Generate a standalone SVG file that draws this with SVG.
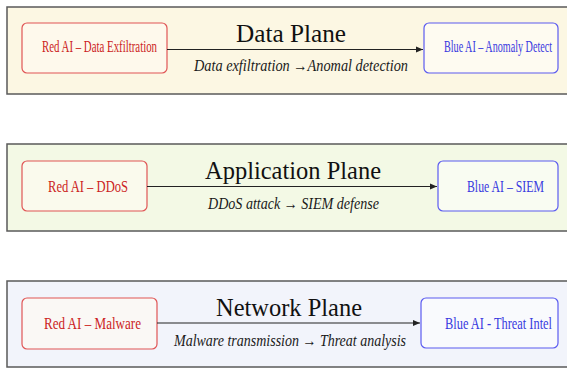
<svg xmlns="http://www.w3.org/2000/svg" width="567" height="368" viewBox="0 0 567 368">
<defs>
<style>
.panel{stroke:#5a5a5a;stroke-width:1.5}
.red rect{fill:#fffaf2;fill-opacity:0.6;stroke:#e05555;stroke-width:1.2}
.blue rect{fill:#ffffff;fill-opacity:0.5;stroke:#5b5bf0;stroke-width:1.2}
.red text{fill:#cc1f24;font-family:"Liberation Serif","Times New Roman",serif;font-size:16px}
.blue text{fill:#3a3ae0;font-family:"Liberation Serif","Times New Roman",serif;font-size:16px}
.title{fill:#111;font-family:"Liberation Serif","Times New Roman",serif;font-size:26px;text-anchor:middle}
.sub{fill:#1a1a1a;font-family:"Liberation Serif","DejaVu Serif",serif;font-size:16px;font-style:italic;text-anchor:middle}
.conn line{stroke:#222;stroke-width:1.2;marker-end:url(#ah)}
</style>
<marker id="ah" markerWidth="8" markerHeight="8" refX="7" refY="4" orient="auto" markerUnits="userSpaceOnUse">
<path d="M0,1 L7,4 L0,7 Z" fill="#222"/>
</marker>
</defs>

<g id="panel-data">
<rect class="panel" x="7" y="7" width="570" height="87" fill="#fcf7e3"/>
<text class="title" x="291" y="42" textLength="110" lengthAdjust="spacingAndGlyphs">Data Plane</text>
<text class="sub" x="301" y="71" textLength="214" lengthAdjust="spacingAndGlyphs">Data exfiltration →Anomal detection</text>
</g>
<g id="panel-app">
<rect class="panel" x="7" y="144" width="570" height="87" fill="#f3f9e5"/>
<text class="title" x="293" y="179" textLength="176" lengthAdjust="spacingAndGlyphs">Application Plane</text>
<text class="sub" x="293.5" y="209" textLength="171" lengthAdjust="spacingAndGlyphs">DDoS attack → SIEM defense</text>
</g>
<g id="panel-net">
<rect class="panel" x="7" y="281" width="570" height="86" fill="#f2f4fb"/>
<text class="title" x="289" y="316" textLength="146" lengthAdjust="spacingAndGlyphs">Network Plane</text>
<text class="sub" x="290" y="346" textLength="232" lengthAdjust="spacingAndGlyphs">Malware transmission → Threat analysis</text>
</g>

<g id="red-data" class="red">
<rect x="22" y="23" width="145" height="50" rx="5"/>
<text transform="translate(42,52) scale(0.7,1)" textLength="164.3" lengthAdjust="spacingAndGlyphs">Red AI – Data Exfiltration</text>
</g>
<g id="blue-data" class="blue">
<rect x="424" y="23" width="134" height="50" rx="5"/>
<text transform="translate(444,52) scale(0.7,1)" textLength="154.3" lengthAdjust="spacingAndGlyphs">Blue AI – Anomaly Detect</text>
</g>
<g id="red-app" class="red">
<rect x="22" y="161" width="125" height="50" rx="5"/>
<text transform="translate(48,191.5) scale(0.7,1)" textLength="114.3" lengthAdjust="spacingAndGlyphs">Red AI – DDoS</text>
</g>
<g id="blue-app" class="blue">
<rect x="438" y="161" width="120" height="50" rx="5"/>
<text transform="translate(467,191.5) scale(0.7,1)" textLength="110" lengthAdjust="spacingAndGlyphs">Blue AI – SIEM</text>
</g>
<g id="red-net" class="red">
<rect x="22" y="298" width="135" height="51" rx="5"/>
<text transform="translate(44,329) scale(0.7,1)" textLength="138.6" lengthAdjust="spacingAndGlyphs">Red AI – Malware</text>
</g>
<g id="blue-net" class="blue">
<rect x="421" y="298" width="137" height="50" rx="5"/>
<text transform="translate(445,329) scale(0.7,1)" textLength="152.9" lengthAdjust="spacingAndGlyphs">Blue AI - Threat Intel</text>
</g>

<g id="connectors" class="conn">
<line x1="167" y1="49.5" x2="423" y2="49.5"/>
<line x1="147" y1="186.5" x2="437" y2="186.5"/>
<line x1="157" y1="323" x2="420" y2="323"/>
</g>
</svg>
